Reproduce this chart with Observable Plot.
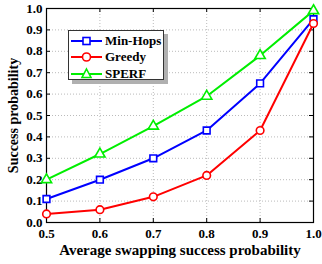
<!DOCTYPE html>
<html><head><meta charset="utf-8">
<script src="https://cdn.jsdelivr.net/npm/d3@7"></script>
<script src="https://cdn.jsdelivr.net/npm/@observablehq/plot@0.6"></script>
<style>
body{margin:0;background:#fff;}
#wrap{position:relative;width:322px;height:264px;font-family:"Liberation Serif","Times New Roman",serif;font-weight:bold;}
#legend{position:absolute;left:68px;top:30px;width:96px;height:50px;background:#fff;border:1px solid #333;box-shadow:4px 4px 0 #b0b0b0;box-sizing:border-box;}
.row{position:absolute;left:0;height:16px;display:flex;align-items:center;font-size:13px;white-space:nowrap;}
.row svg{margin-left:2px;margin-right:3px;flex:none;}
</style></head>
<body><div id="wrap"></div>
<script>
const xValues = [0.5, 0.6, 0.7, 0.8, 0.9, 1.0];
const minHops = [0.11, 0.2, 0.3, 0.43, 0.65, 0.95];
const greedy = [0.04, 0.06, 0.12, 0.22, 0.43, 0.93];
const sperf = [0.2, 0.32, 0.45, 0.59, 0.78, 0.99];
const seriesNames = ["Min-Hops", "Greedy", "SPERF"];
const seriesColors = ["#0000ff", "#ff0000", "#00ee00"];
const seriesSymbols = ["square", "circle", "triangle"];
const xTicks = [0.5, 0.6, 0.7, 0.8, 0.9, 1.0];
const yTicks = [0, 0.1, 0.2, 0.3, 0.4, 0.5, 0.6, 0.7, 0.8, 0.9, 1.0];

const allSeries = [minHops, greedy, sperf];
const data = allSeries.flatMap((vals, i) => vals.map((v, j) => ({x: xValues[j], y: v, s: seriesNames[i]})));

const W = 322, H = 264, mL = 46, mR = 9, mT = 8, mB = 42;
const pw = W - mL - mR, ph = H - mT - mB;

const chart = Plot.plot({
  width: W, height: H,
  marginLeft: mL, marginRight: mR, marginTop: mT, marginBottom: mB,
  style: {fontFamily: '"Liberation Serif","Times New Roman",serif', fontWeight: "bold", fontSize: "13px", color: "#000", background: "#fff"},
  x: {domain: [0.5, 1.0]},
  y: {domain: [0, 1.0]},
  color: {domain: seriesNames, range: seriesColors},
  symbol: {domain: seriesNames, range: seriesSymbols},
  marks: [
    Plot.gridX(xTicks, {stroke: "#bbb", strokeOpacity: 1, strokeDasharray: "1,2"}),
    Plot.gridY(yTicks, {stroke: "#bbb", strokeOpacity: 1, strokeDasharray: "1,2"}),
    Plot.tickX(xTicks, {x: d => d, insetTop: ph - 4, stroke: "#000"}),
    Plot.tickX(xTicks, {x: d => d, insetBottom: ph - 4, stroke: "#000"}),
    Plot.tickY(yTicks, {y: d => d, insetRight: pw - 4, stroke: "#000"}),
    Plot.tickY(yTicks, {y: d => d, insetLeft: pw - 4, stroke: "#000"}),
    Plot.axisX(xTicks, {tickSize: 0, tickPadding: 6, tickFormat: d3.format(".1f"), label: null, fontSize: 13}),
    Plot.axisY(yTicks, {tickSize: 0, tickPadding: 4, tickFormat: d3.format(".1f"), label: null, fontSize: 13}),
    Plot.axisX([], {label: "Average swapping success probability", labelAnchor: "center", labelArrow: "none", labelOffset: 32, fontSize: 15}),
    Plot.axisY([], {label: "Success probability", labelAnchor: "center", labelArrow: "none", labelOffset: 38, fontSize: 14}),
    Plot.frame({stroke: "#000", strokeWidth: 1.2}),
    Plot.line(data, {x: "x", y: "y", z: "s", stroke: "s", strokeWidth: 2}),
    Plot.dot(data, {x: "x", y: "y", stroke: "s", symbol: "s", fill: "#fff", r: 3.8, strokeWidth: 1.6})
  ]
});
const wrap = document.getElementById("wrap");
wrap.appendChild(chart);

const legend = document.createElement("div");
legend.id = "legend";
seriesNames.forEach((name, i) => {
  const row = document.createElement("div");
  row.className = "row";
  row.style.top = (2 + i * 16.3) + "px";
  const sym = seriesSymbols[i];
  const c = seriesColors[i];
  let shape = "";
  if (sym === "square") shape = `<rect x="12" y="4.5" width="7" height="7" fill="#fff" stroke="${c}" stroke-width="1.6"/>`;
  else if (sym === "circle") shape = `<circle cx="15.5" cy="8" r="4" fill="#fff" stroke="${c}" stroke-width="1.6"/>`;
  else shape = `<path d="M15.5,3 L20,11.5 L11,11.5 Z" fill="#fff" stroke="${c}" stroke-width="1.6"/>`;
  row.innerHTML = `<svg width="31" height="16"><line x1="0" x2="31" y1="8" y2="8" stroke="${c}" stroke-width="2"/>${shape}</svg><span>${name}</span>`;
  legend.appendChild(row);
});
wrap.appendChild(legend);
</script></body></html>
